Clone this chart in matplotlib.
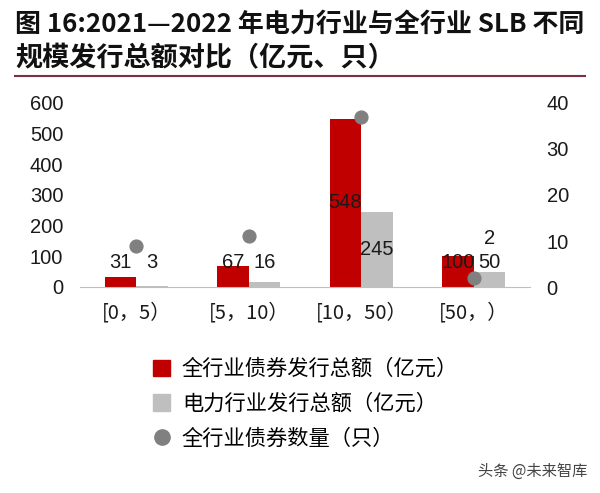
import numpy as np
import matplotlib.pyplot as plt
from matplotlib.lines import Line2D
from matplotlib.patches import Patch

plt.rcParams['font.family'] = ['Liberation Sans', 'Noto Sans CJK SC', 'DejaVu Sans']

categories = ['[0，5）', '[5，10）', '[10，50）', '[50，）']
all_amount = [31, 67, 548, 100]      # 全行业债券发行总额（亿元）
power_amount = [3, 16, 245, 50]      # 电力行业发行总额（亿元）
bond_count = [9, 11, 37, 2]          # 全行业债券数量（只）

# label heights (left-axis units)
all_label_y = [80, 80, 274, 80]
power_label_y = [80, 80, 122, 80]

red = '#C00000'
grey = '#BFBFBF'
dot = '#808080'

fig = plt.figure(figsize=(6, 4.93), dpi=100)
ax = fig.add_axes([80 / 600, 206 / 493, 450 / 600, 184 / 493])
ax2 = ax.twinx()

x = np.arange(len(categories))
w = 0.28
ax.bar(x - w / 2, all_amount, w, color=red, zorder=2)
ax.bar(x + w / 2, power_amount, w, color=grey, zorder=2)
ax2.scatter(x, bond_count, s=85, color=dot, zorder=3)

for i in range(len(categories)):
    ax.text(x[i] - w / 2, all_label_y[i], str(all_amount[i]), ha='center', va='center', fontsize=14.5, color='#1a1a1a')
    ax.text(x[i] + w / 2, power_label_y[i], str(power_amount[i]), ha='center', va='center', fontsize=14.5, color='#1a1a1a')
ax2.text(x[3] + 0.14, 10.5, str(bond_count[3]), ha='center', va='center', fontsize=14.5, color='#1a1a1a')

ax.set_xlim(-0.5, 3.5)
ax.set_ylim(0, 600)
ax2.set_ylim(0, 40)
ax.set_yticks(range(0, 601, 100))
ax2.set_yticks(range(0, 41, 10))
ax.set_xticks(x)
ax.set_xticklabels(categories, family=['Noto Sans CJK SC', 'DejaVu Sans'])

for a in (ax, ax2):
    for s in a.spines.values():
        s.set_visible(False)
    a.tick_params(length=0, labelsize=14.5, colors='#1a1a1a')
ax.spines['bottom'].set_visible(True)
ax.spines['bottom'].set_color('#BFBFBF')
ax.tick_params(axis='x', pad=11, labelsize=14.5)
ax.tick_params(axis='y', pad=12)
ax2.tick_params(axis='y', pad=12)

# title
cjk = ['Noto Sans CJK SC', 'DejaVu Sans']
fig.text(15 / 600, 1 - 24 / 493, '图 16:2021—2022 年电力行业与全行业 SLB 不同', fontsize=18.7,
         fontweight='bold', family=cjk, va='center', ha='left', color='#111111')
fig.text(15 / 600, 1 - 58 / 493, '规模发行总额对比（亿元、只）', fontsize=19.5,
         fontweight='bold', family=cjk, va='center', ha='left', color='#111111')
fig.add_artist(Line2D([15 / 600, 585 / 600], [1 - 76 / 493, 1 - 76 / 493], color='#7B2F45', lw=1.5))

handles = [
    Patch(color=red, label='全行业债券发行总额（亿元）'),
    Patch(color=grey, label='电力行业发行总额（亿元）'),
    Line2D([], [], marker='o', ls='', color=dot, markersize=11, label='全行业债券数量（只）'),
]
fig.legend(handles=handles, loc='upper left', bbox_to_anchor=(134 / 600, 1 - 339 / 493),
           frameon=False, prop={'family': cjk, 'size': 15.3}, handlelength=0.8, handleheight=0.8,
           labelspacing=0.6, handletextpad=0.55)

fig.text(587 / 600, 1 - 471 / 493, '头条 @未来智库', fontsize=11, family=cjk, ha='right',
         va='center', color='#444444')

fig.savefig('out.png', dpi=100)
